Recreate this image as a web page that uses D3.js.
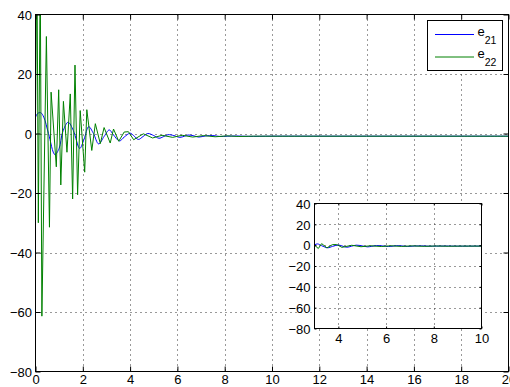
<!DOCTYPE html>
<html><head><meta charset="utf-8">
<script src="https://cdn.jsdelivr.net/npm/d3@7"></script>
<style>body{margin:0;background:#fff}svg{display:block}text{font-family:"Liberation Sans",Arial,Helvetica,sans-serif;}</style>
</head><body><svg id="c" width="510" height="387"></svg>
<script>
// ---- data ----
const e21T=[0,0.1,0.22,0.35,0.55,0.82,1.0,1.15,1.38,1.6,1.87,2.05,2.25,2.45,2.67,2.9,3.12,3.3,3.55,3.75,4.0,4.15,4.35,4.55,4.75,5.0,5.22,5.4,5.6,5.85,6.1,6.3,6.45,6.7,6.9,7.2,7.5,7.8,8.1,8.5,9,10,12,14,16,18,20];
const e21V=[5.5,6.8,7.0,5.5,0,-7.1,-5,0.5,3.8,1,-5,-2,2.3,0,-3.5,-1,1.2,-0.5,-2.5,-1.2,0.1,-0.7,-2.0,-1,0,-0.7,-1.6,-1.1,-0.4,-0.7,-1.3,-0.9,-0.5,-0.8,-1.2,-0.8,-0.7,-1.0,-0.9,-0.85,-0.95,-0.9,-0.9,-0.9,-0.9,-0.9,-0.9];
const e22T=[0,0.06,0.12,0.2,0.27,0.46,0.59,0.66,0.88,0.98,1.07,1.18,1.33,1.47,1.57,1.67,1.78,1.89,2.08,2.17,2.38,2.53,2.74,2.9,3.16,3.3,3.52,3.75,3.93,4.15,4.56,4.95,5.35,5.8,6.2,6.65,7.1,7.6,8.1,8.6,9.2,10,12,14,16,18,20];
const e22V=[5,60,-30,55,-61.4,32.6,-31.5,13.9,-11.2,14.7,-17.3,10.8,-6.3,13.3,-22,23,-20.6,7.7,-13,8,-5.7,3.3,-3.4,2,-3.2,1.5,-2.6,0.5,0.6,-2.1,-0.1,-1.5,-0.6,-1.3,-0.6,-1.2,-0.7,-1.1,-0.8,-1.0,-0.9,-0.9,-0.9,-0.9,-0.9,-0.9,-0.9];
const xTicks=[0,2,4,6,8,10,12,14,16,18,20];
const yTicks=[-80,-60,-40,-20,0,20,40];
const insetXTicks=[4,6,8,10];
const insetYTicks=[-80,-60,-40,-20,0,20,40];
const seriesLabels=[["e","21"],["e","22"]];
const seriesColors=["#0000ff","#008000"];

const svg=d3.select("#c");
const FONT=13;
const e21=e21T.map((t,i)=>[t,e21V[i]]);
const e22=e22T.map((t,i)=>[t,e22V[i]]);

function panel(g,id,L,R,T,B,xd,yd,xt,yt,tickLen,xlabDy,ylabPad){
  const x=d3.scaleLinear().domain(xd).range([L,R]);
  const y=d3.scaleLinear().domain(yd).range([B,T]);
  g.append("rect").attr("x",L).attr("y",T).attr("width",R-L).attr("height",B-T).attr("fill","#fff");
  // grid
  const grid=g.append("g").attr("stroke","#333").attr("stroke-width",1).attr("stroke-dasharray","1,4");
  xt.filter(v=>v>xd[0]&&v<xd[1]).forEach(v=>grid.append("line").attr("x1",Math.round(x(v))+0.5).attr("x2",Math.round(x(v))+0.5).attr("y1",T).attr("y2",B));
  yt.filter(v=>v>yd[0]&&v<yd[1]).forEach(v=>grid.append("line").attr("x1",L).attr("x2",R).attr("y1",Math.round(y(v))+0.5).attr("y2",Math.round(y(v))+0.5));
  // lines
  g.append("clipPath").attr("id",id).append("rect").attr("x",L).attr("y",T).attr("width",R-L).attr("height",B-T);
  const lg=g.append("g").attr("clip-path",`url(#${id})`);
  const lineB=d3.line().x(d=>x(d[0])).y(d=>y(d[1])).curve(d3.curveCatmullRom.alpha(0.5));
  const lineG=d3.line().x(d=>x(d[0])).y(d=>y(d[1]));
  lg.append("path").attr("d",lineB(e21)).attr("fill","none").attr("stroke",seriesColors[0]).attr("stroke-width",1);
  lg.append("path").attr("d",lineG(e22)).attr("fill","none").attr("stroke",seriesColors[1]).attr("stroke-width",1);
  // axes
  const ab=d3.axisBottom(x).tickValues(xt).tickSize(-tickLen).tickSizeOuter(0).tickPadding(xlabDy).tickFormat(d3.format("d"));
  const al=d3.axisLeft(y).tickValues(yt).tickSize(-tickLen).tickSizeOuter(0).tickPadding(ylabPad).tickFormat(d3.format("d"));
  const at=d3.axisTop(x).tickValues(xt).tickSize(-tickLen).tickSizeOuter(0).tickFormat("");
  const ar=d3.axisRight(y).tickValues(yt).tickSize(-tickLen).tickSizeOuter(0).tickFormat("");
  const gb=g.append("g").attr("transform",`translate(0,${B})`).call(ab);
  const gl=g.append("g").attr("transform",`translate(${L},0)`).call(al);
  g.append("g").attr("transform",`translate(0,${T})`).call(at);
  g.append("g").attr("transform",`translate(${R},0)`).call(ar);
  g.selectAll(".domain").remove();
  g.selectAll(".tick line").attr("stroke","#000");
  g.selectAll(".tick text").attr("font-size",FONT).attr("font-family","'Liberation Sans',Arial,sans-serif").attr("fill","#000");
  gl.selectAll(".tick text").attr("dy","0.36em");
  g.append("rect").attr("x",L).attr("y",T).attr("width",R-L).attr("height",B-T).attr("fill","none").attr("stroke","#000").attr("stroke-width",1);
  return {x,y};
}

const main=svg.append("g");
panel(main,"clipMain",35.5,508.5,14.5,371.5,[0,20],[-80,40],xTicks,yTicks,5,3,3.5);

// legend
const lgd=svg.append("g");
lgd.append("rect").attr("x",427.5).attr("y",20.5).attr("width",75).attr("height",50).attr("fill","#fff").attr("stroke","#000").attr("stroke-width",1);
const legY=[34.5,57];
seriesLabels.forEach((lab,i)=>{
  lgd.append("line").attr("x1",435).attr("x2",474).attr("y1",legY[i]).attr("y2",legY[i]).attr("stroke",seriesColors[i]).attr("stroke-width",1);
  const t=lgd.append("text").attr("x",477.5).attr("y",legY[i]+1).attr("font-size",FONT).attr("fill","#000");
  t.append("tspan").text(lab[0]);
  t.append("tspan").attr("font-size",10.5).attr("dy",8).text(lab[1]);
});

// inset
const ins=svg.append("g");
panel(ins,"clipInset",314.5,481.5,203.5,328.5,[3,10],[-80,40],insetXTicks,insetYTicks,2,5.5,4);
</script></body></html>
